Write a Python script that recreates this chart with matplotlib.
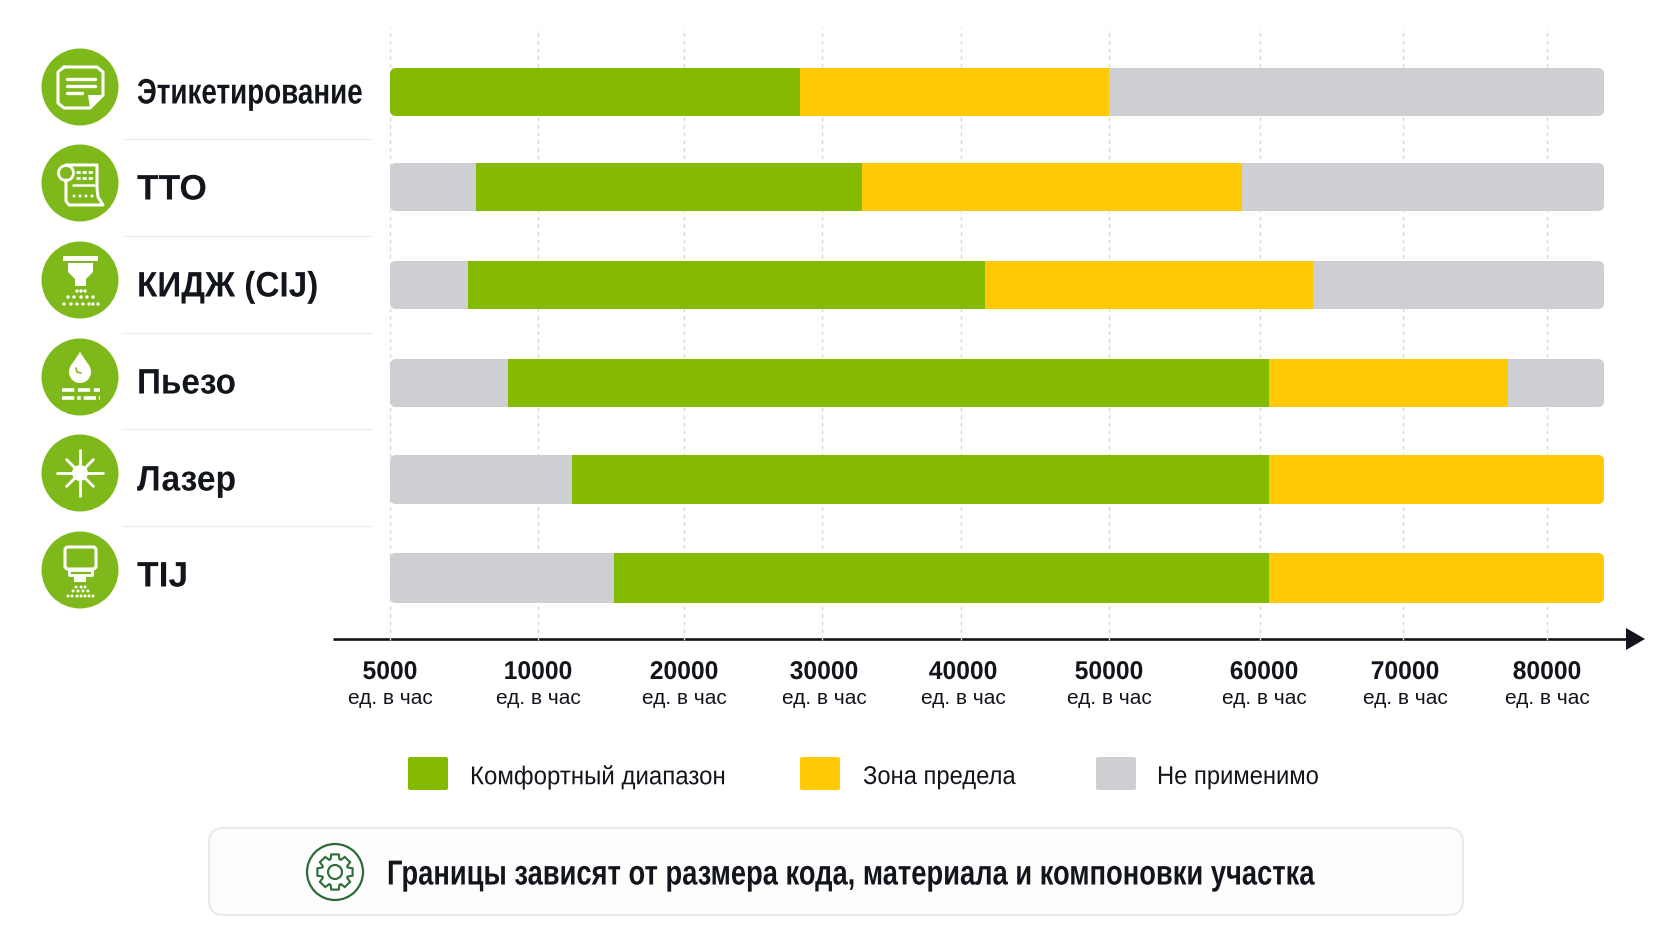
import numpy as np
import matplotlib
matplotlib.use('Agg')
import matplotlib.pyplot as plt
from matplotlib.patches import FancyBboxPatch, Circle, Polygon, Rectangle
from matplotlib.patheffects import AbstractPathEffect
from matplotlib.transforms import Affine2D, blended_transform_factory

# data
methods = ['Этикетирование', 'ТТО', 'КИДЖ (CIJ)', 'Пьезо', 'Лазер', 'TIJ']
green_from = [5000, 7900, 7650, 9000, 12300, 15200]
green_to = [28400, 32900, 41600, 60600, 60600, 60600]
yellow_to = [50000, 58800, 63700, 77300, 84000, 84000]
axis_start = 5000
axis_end = 84000
tick_values = [5000, 10000, 20000, 30000, 40000, 50000, 60000, 70000, 80000]
tick_unit = 'ед. в час'
legend_names = ['Комфортный диапазон', 'Зона предела', 'Не применимо']
note = 'Границы зависят от размера кода, материала и компоновки участка'

GREEN = '#84BB00'
YELLOW = '#FFCA05'
GRAY = '#CDCFD2'
ICON = '#7FB81A'
DARK = '#12151C'

plt.rcParams['font.family'] = ['Liberation Sans', 'DejaVu Sans']


class Condense(AbstractPathEffect):
    # narrow the glyphs, no condensed family is installed
    def __init__(self, sx, center=False):
        super().__init__()
        self.sx = sx
        self.center = center

    def draw_path(self, renderer, gc, tpath, affine, rgbFace=None):
        shift = 0
        if self.center:
            shift = (1 - self.sx) * tpath.get_extents().width / 2
        squeeze = Affine2D().scale(self.sx, 1).translate(shift, 0)
        renderer.draw_path(gc, tpath, squeeze + affine, rgbFace)


W, H = 1672, 941
fig = plt.figure(figsize=(W / 100, H / 100), dpi=100, facecolor='white')

# overlay works in picture pixels
over = fig.add_axes([0, 0, 1, 1])
over.set_xlim(0, W)
over.set_ylim(H, 0)
over.axis('off')

# the axis is not even, every tick has its own place
scale_values = tick_values + [axis_end]
scale_px = [390, 538, 684, 822, 961, 1109, 1260, 1403, 1547, 1604]
def forward(v):
    return np.interp(v, scale_values, scale_px)
def inverse(p):
    return np.interp(p, scale_px, scale_values)

ax = fig.add_axes([390 / W, 1 - 640 / H, (1604 - 390) / W, (640 - 28) / H])
ax.patch.set_alpha(0)
ax.set_xscale('function', functions=(forward, inverse))
ax.set_xlim(axis_start, axis_end)
ax.set_ylim(640, 28)
for s in ax.spines.values():
    s.set_visible(False)
ax.set_xticks(tick_values)
ax.set_xticklabels([])
ax.set_yticks([])
ax.minorticks_off()
ax.tick_params(length=0)
ax.grid(axis='x', color='#d8d8d8', lw=1, ls=(0, (2.5, 3)), clip_on=False)
ax.set_axisbelow(True)

row_top = [68, 163, 261, 359, 455, 553]
row_h = [48, 48, 48, 48, 49, 50]
row_y = [t + h / 2 for t, h in zip(row_top, row_h)]
icon_y = [87, 183, 280, 377, 473, 570]
label_y = [94, 190, 287, 384, 481, 577]
label_sx = [0.785, 1.0, 0.94, 0.94, 0.95, 1.0]
sep_y = [139, 236, 333, 429, 526]

for i in range(len(methods)):
    clip = FancyBboxPatch((390, row_top[i]), 1214, row_h[i], boxstyle='round,pad=0,rounding_size=6',
                          transform=over.transData)
    parts = [(axis_start, green_from[i], GRAY), (green_from[i], green_to[i], GREEN),
             (green_to[i], yellow_to[i], YELLOW), (yellow_to[i], axis_end, GRAY)]
    for a, b, c in parts:
        if b > a:
            r = ax.barh(row_y[i], b - a, left=a, height=row_h[i], color=c, lw=0, zorder=2)
            r[0].set_clip_path(clip)

# tick labels, a few sit slightly right of their grid line
label_shift = [0, 0, 0, 2, 2, 0, 4, 2, 0]
for v, dx in zip(tick_values, label_shift):
    tr = blended_transform_factory(ax.transData, over.transData) + Affine2D().translate(dx, 0)
    ax.text(v, 672, str(v), transform=tr, ha='center', va='center', fontsize=18.5,
            fontweight='bold', color=DARK, clip_on=False, path_effects=[Condense(0.96, True)])
    ax.text(v, 698, tick_unit, transform=tr, ha='center', va='center', fontsize=15,
            color=DARK, clip_on=False)

# axis arrow
over.plot([333, 1630], [639, 639], color=DARK, lw=1.9, solid_capstyle='butt')
over.add_patch(Polygon([(1626, 628), (1645, 639), (1626, 650)], closed=True, color=DARK, lw=0))

# row labels and separators
for i, m in enumerate(methods):
    over.text(137, label_y[i], m, ha='left', va='center', fontsize=25.5, fontweight='bold', color=DARK,
              path_effects=[Condense(label_sx[i])])
    over.add_patch(Circle((80, icon_y[i]), 38.5, color=ICON, lw=0))
for y in sep_y:
    over.plot([122, 372], [y, y], color='#efefef', lw=1)


def ln(cx, cy, xs, ys, lw=2.2, c='white', ls='-'):
    over.plot([cx + x for x in xs], [cy + y for y in ys], color=c, lw=lw, ls=ls,
              solid_capstyle='round', solid_joinstyle='round')


def dots(cx, cy, pts, r=1.5):
    for x, y in pts:
        over.add_patch(Circle((cx + x, cy + y), r, color='white', lw=0))


# icon 1, label with folded corner
cx, cy = 80, icon_y[0]
ln(cx, cy, [-16, 17, 23, 23, 10, -16, -22, -22, -16], [-20, -20, -15, 8, 21, 21, 16, -15, -20])
ln(cx, cy, [-13, 15], [-8.5, -8.5], 2.4)
ln(cx, cy, [-13, 15], [-1.5, -1.5], 2.4)
ln(cx, cy, [-13, 2], [6, 6], 2.4)
over.add_patch(Polygon([(cx + 8, cy + 8), (cx + 23, cy + 8), (cx + 10, cy + 21)], closed=True, color='white', lw=0))

# icon 2, roll of ribbon
cx, cy = 80, icon_y[1]
over.add_patch(Circle((cx - 14, cy - 10), 7.5, fc='none', ec='white', lw=2))
ln(cx, cy, [-14, 17, 17, 18, 23, -11, -14, -14], [-18, -18, 5, 14, 22, 22, 18, -3])
ln(cx, cy, [-4, 14], [-11, -11], 2, ls=(0, (1.5, 0.7)))
ln(cx, cy, [-4, 14], [-5, -5], 2, ls=(0, (1.5, 0.7)))
ln(cx, cy, [-7, 14], [2, 2], 1.8)
dots(cx, cy, [(-6, 13), (0, 13), (6, 13), (12, 13)])

# icon 3, continuous inkjet head
cx, cy = 80, icon_y[2]
over.add_patch(Rectangle((cx - 17, cy - 24), 35, 5, color='white', lw=0))
over.add_patch(Polygon([(cx - 12, cy - 17), (cx + 13, cy - 17), (cx + 13, cy - 8), (cx + 6, cy - 1), (cx + 6, cy + 6),
                        (cx - 5, cy + 6), (cx - 5, cy - 1), (cx - 12, cy - 8)], closed=True, color='white', lw=0))
dots(cx, cy, [(-3, 11), (1, 11), (5, 11), (-6, 17), (1, 17), (7, 17), (-12, 17), (13, 17),
              (-16, 24), (-9, 24), (-3, 24), (3, 24), (9, 24), (13, 24), (18, 24)], 1.7)

# icon 4, drop over printed lines
cx, cy = 80, icon_y[3]
over.add_patch(Circle((cx, cy - 5), 11, color='white', lw=0))
over.add_patch(Polygon([(cx, cy - 25), (cx + 10, cy - 10), (cx - 10, cy - 10)], closed=True, color='white', lw=0))
ln(cx, cy, [-4, -3, 1], [-9, -5, -4], 1.2, c=ICON)
ln(cx, cy, [-18, 20], [13, 13], 2.6, ls=(0, (3.4, 1)))
ln(cx, cy, [-18, 20], [21, 21], 2.6, ls=(0, (3.4, 0.8, 1, 0.8)))

# icon 5, laser burst
cx, cy = 80, icon_y[4]
over.add_patch(Circle((cx, cy), 8, color='white', lw=0))
for a in range(0, 360, 45):
    rad = a * np.pi / 180
    out = 23 if a % 90 == 0 else 19
    ln(cx, cy, [0, out * np.cos(rad)], [0, out * np.sin(rad)], 2)

# icon 6, thermal inkjet cartridge
cx, cy = 80, icon_y[5]
over.add_patch(FancyBboxPatch((cx - 15, cy - 23), 31, 22, boxstyle='round,pad=0,rounding_size=3',
                              fc='none', ec='white', lw=2.2))
ln(cx, cy, [-11, 12, 12, -11, -11], [0, 0, 5, 5, 0], 2)
over.add_patch(Polygon([(cx - 6, cy + 6), (cx + 6, cy + 6), (cx + 6, cy + 12), (cx - 6, cy + 12)], closed=True, color='white', lw=0))
dots(cx, cy, [(-4, 17), (1, 17), (5, 17), (-7, 21), (-2, 21), (3, 21), (8, 21),
              (-12, 26), (-8, 26), (-3, 26), (1, 26), (5, 26), (9, 26), (13, 26)], 1.5)

# legend
legend_colors = [GREEN, YELLOW, GRAY]
legend_box_x = [408, 800, 1096]
legend_text_x = [470, 863, 1157]
legend_sx = [0.935, 0.925, 0.925]
for n, c, bx, tx, sx in zip(legend_names, legend_colors, legend_box_x, legend_text_x, legend_sx):
    over.add_patch(FancyBboxPatch((bx, 757), 40, 33, boxstyle='round,pad=0,rounding_size=2', fc=c, ec='none'))
    over.text(tx, 777, n, ha='left', va='center', fontsize=18.5, color=DARK, path_effects=[Condense(sx)])

# note box
over.add_patch(FancyBboxPatch((209, 828), 1254, 87, boxstyle='round,pad=0,rounding_size=15',
                              fc='#fdfdfd', ec='#e9ebe9', lw=1.6))
gx, gy = 335, 872
GEAR = '#2C6B38'
over.add_patch(Circle((gx, gy), 28, fc='none', ec=GEAR, lw=1.6))
over.add_patch(Circle((gx, gy), 7, fc='none', ec=GEAR, lw=1.5))
teeth = 8
pts = []
for k in range(teeth):
    a0 = 2 * np.pi * k / teeth
    step = 2 * np.pi / teeth
    for da, rr in [(-0.36, 13.5), (-0.22, 18), (0.22, 18), (0.36, 13.5)]:
        pts.append((gx + rr * np.cos(a0 + da * step * 1.2), gy + rr * np.sin(a0 + da * step * 1.2)))
over.add_patch(Polygon(pts, closed=True, fc='none', ec=GEAR, lw=1.5))
over.text(387, 875, note, ha='left', va='center', fontsize=25, fontweight='bold', color=DARK,
          path_effects=[Condense(0.787)])

fig.savefig('out.png', dpi=100)
